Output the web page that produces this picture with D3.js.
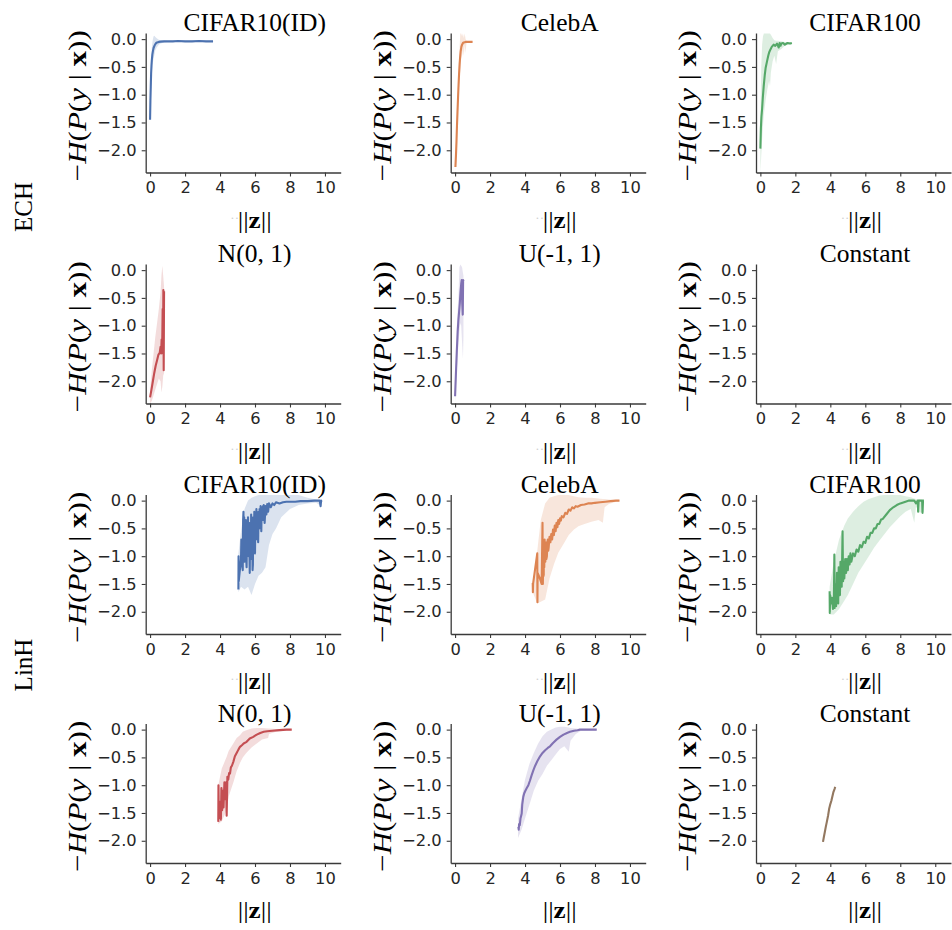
<!DOCTYPE html>
<html>
<head>
<meta charset="utf-8">
<script src="https://cdn.jsdelivr.net/npm/d3@7"></script>
<style>
  body { margin: 0; background: #fff; }
  svg { display: block; }
</style>
</head>
<body>
<svg id="chart" width="952" height="930"></svg>
<script>
// ---- labels and ticks ----
const rowNames = ["ECH", "LinH"];
const datasetNames = ["CIFAR10(ID)", "CelebA", "CIFAR100", "N(0, 1)", "U(-1, 1)", "Constant"];
const palette = ["#4c72b0", "#dd8452", "#55a868", "#c44e52", "#8172b3", "#937860"];
const xTicks = [0, 2, 4, 6, 8, 10];
const yTicks = [0, -0.5, -1, -1.5, -2];

// ---- ECH head: mean curve [||z||, -H] and spread band [||z||, low, high] ----
const echCifar10Line = [[0.00,-1.45],[0.02,-1.10],[0.04,-0.85],[0.06,-0.62],[0.08,-0.48],[0.10,-0.38],[0.13,-0.28],[0.16,-0.22],[0.20,-0.16],[0.25,-0.12],[0.30,-0.09],[0.35,-0.07],[0.40,-0.06],[0.50,-0.05],[0.60,-0.045],[0.80,-0.04],[1.00,-0.04],[1.30,-0.04],[1.60,-0.035],[2.00,-0.04],[2.40,-0.04],[2.80,-0.035],[3.20,-0.04],[3.60,-0.04]];
const echCifar10Band = [[0.00,-1.45,-1.40],[0.05,-0.95,-0.45],[0.10,-0.60,-0.15],[0.15,-0.45,-0.02],[0.20,-0.35,0.05],[0.25,-0.28,0.06],[0.30,-0.20,0.04],[0.40,-0.14,0.01],[0.50,-0.10,-0.01],[0.60,-0.08,-0.02],[0.80,-0.06,-0.025],[1.00,-0.05,-0.03],[2.00,-0.05,-0.03],[3.60,-0.05,-0.03]];

const echCelebALine = [[0.02,-2.30],[0.05,-2.10],[0.08,-1.85],[0.11,-1.55],[0.14,-1.30],[0.17,-1.05],[0.20,-0.82],[0.23,-0.62],[0.26,-0.45],[0.29,-0.32],[0.32,-0.22],[0.36,-0.14],[0.40,-0.10],[0.45,-0.07],[0.50,-0.06],[0.60,-0.05],[0.70,-0.05],[0.85,-0.05],[1.00,-0.05]];
const echCelebABand = [[0.02,-2.40,-2.20],[0.10,-1.80,-1.30],[0.20,-1.00,-0.60],[0.25,-0.75,-0.20],[0.30,-0.55,0.10],[0.35,-0.35,0.10],[0.40,-0.30,0.05],[0.45,-0.20,0.10],[0.50,-0.30,0.02],[0.55,-0.10,0.10],[0.60,-0.25,0.00],[0.65,-0.08,-0.03],[0.70,-0.06,-0.04],[1.00,-0.06,-0.04]];

const echCifar100Line = [[0.00,-1.97],[0.03,-1.60],[0.06,-1.40],[0.10,-1.25],[0.14,-1.05],[0.19,-0.85],[0.25,-0.65],[0.30,-0.52],[0.38,-0.40],[0.45,-0.30],[0.50,-0.24],[0.57,-0.19],[0.65,-0.14],[0.76,-0.10],[0.85,-0.12],[0.95,-0.08],[1.05,-0.15],[1.10,-0.07],[1.15,-0.12],[1.20,-0.08],[1.30,-0.07],[1.40,-0.10],[1.55,-0.07],[1.70,-0.08],[1.80,-0.07]];
const echCifar100Band = [[0.00,-2.40,-1.50],[0.05,-2.10,-0.50],[0.10,-1.80,-0.10],[0.15,-1.55,0.05],[0.20,-1.35,0.10],[0.30,-1.10,0.10],[0.40,-0.90,0.10],[0.50,-0.75,0.10],[0.55,-0.85,0.10],[0.60,-0.60,0.08],[0.70,-0.40,0.02],[0.80,-0.30,-0.02],[0.90,-0.45,-0.03],[1.00,-0.22,-0.03],[1.20,-0.18,-0.04],[1.40,-0.12,-0.05],[1.80,-0.09,-0.06]];

const echNormalLine = [[0.00,-2.29],[0.08,-2.15],[0.16,-2.00],[0.24,-1.85],[0.32,-1.72],[0.40,-1.62],[0.48,-1.52],[0.55,-1.49],[0.60,-1.38],[0.63,-1.50],[0.66,-1.25],[0.69,-1.42],[0.72,-0.70],[0.74,-1.50],[0.76,-0.36],[0.78,-1.80],[0.80,-0.38]];
const echNormalBand = [[0.00,-2.40,-2.15],[0.10,-2.35,-1.80],[0.20,-2.25,-1.50],[0.30,-2.15,-1.20],[0.40,-2.05,-0.95],[0.50,-1.95,-0.70],[0.60,-2.00,-0.40],[0.65,-2.20,-0.10],[0.70,-2.10,0.08],[0.75,-1.90,-0.10],[0.80,-1.85,-0.30]];

const echUniformLine = [[0.00,-2.27],[0.05,-1.85],[0.10,-1.45],[0.15,-1.10],[0.19,-0.90],[0.23,-0.75],[0.27,-0.60],[0.31,-0.40],[0.35,-0.25],[0.38,-0.18],[0.41,-0.60],[0.44,-0.80],[0.46,-0.18],[0.48,-0.20]];
const echUniformBand = [[0.00,-2.38,-2.15],[0.10,-1.80,-1.00],[0.20,-1.30,-0.40],[0.25,-1.10,0.05],[0.30,-0.95,0.10],[0.35,-1.00,0.08],[0.40,-1.30,0.05],[0.45,-1.60,-0.05],[0.48,-1.20,-0.10]];

const echConstantLine = [];
const echConstantBand = [];

// ---- LinH head ----
const linCifar10Line = [[5.05,-1.60],[5.06,-1.00],[5.07,-1.45],[5.20,-1.05],[5.22,-0.70],[5.26,-1.15],[5.30,-1.25],[5.32,-0.35],[5.34,-0.20],[5.36,-0.95],[5.38,-0.30],[5.40,-1.10],[5.42,-0.60],[5.44,-0.40],[5.46,-0.95],[5.48,-0.35],[5.50,-1.05],[5.52,-1.20],[5.54,-0.55],[5.56,-0.70],[5.58,-0.85],[5.60,-0.30],[5.62,-0.75],[5.64,-1.00],[5.66,-0.45],[5.68,-0.90],[5.70,-1.30],[5.72,-0.40],[5.74,-0.65],[5.76,-1.05],[5.78,-0.25],[5.80,-0.80],[5.82,-0.90],[5.84,-0.50],[5.86,-1.25],[5.88,-1.15],[5.90,-0.30],[5.92,-0.60],[5.94,-0.75],[5.96,-0.20],[5.98,-0.85],[6.00,-0.95],[6.02,-0.35],[6.04,-0.55],[6.06,-0.70],[6.08,-0.15],[6.10,-0.45],[6.12,-0.60],[6.14,-0.25],[6.16,-0.50],[6.18,-0.75],[6.20,-0.20],[6.22,-0.40],[6.24,-0.50],[6.26,-0.15],[6.28,-0.30],[6.30,-0.45],[6.32,-0.10],[6.34,-0.25],[6.36,-0.55],[6.38,-0.12],[6.40,-0.30],[6.42,-0.12],[6.44,-0.35],[6.46,-0.10],[6.48,-0.22],[6.50,-0.08],[6.55,-0.40],[6.60,-0.10],[6.65,-0.25],[6.70,-0.06],[6.75,-0.20],[6.80,-0.05],[6.90,-0.12],[7.00,-0.05],[7.10,-0.08],[7.20,-0.03],[7.40,-0.05],[7.60,-0.03],[7.80,-0.02],[8.00,-0.02],[8.30,-0.02],[8.60,-0.01],[9.00,-0.01],[9.40,0.00],[9.70,0.00],[9.75,-0.10],[9.78,0.00],[9.80,-0.02]];
const linCifar10Band = [[5.05,-1.65,-0.95],[5.20,-1.55,-0.55],[5.40,-1.60,-0.15],[5.60,-1.55,0.00],[5.80,-1.70,0.05],[6.00,-1.50,0.08],[6.20,-1.35,0.10],[6.40,-1.30,0.10],[6.60,-1.20,0.10],[6.80,-0.80,0.10],[7.00,-0.60,0.10],[7.20,-0.50,0.10],[7.50,-0.30,0.10],[8.00,-0.15,0.10],[8.50,-0.08,0.10],[9.00,-0.05,0.05],[9.50,-0.04,0.02],[9.80,-0.10,0.00]];

const linCelebALine = [[4.44,-1.48],[4.45,-1.65],[4.46,-1.50],[4.70,-0.95],[4.71,-1.83],[4.72,-1.30],[4.85,-1.40],[4.95,-1.50],[5.00,-0.40],[5.02,-1.50],[5.04,-0.90],[5.05,-1.05],[5.07,-1.35],[5.08,-0.80],[5.10,-1.20],[5.12,-0.70],[5.13,-0.85],[5.16,-1.10],[5.18,-0.75],[5.20,-0.80],[5.22,-1.05],[5.25,-1.00],[5.28,-0.75],[5.30,-0.70],[5.33,-0.90],[5.35,-0.85],[5.40,-0.65],[5.45,-0.75],[5.50,-0.60],[5.55,-0.70],[5.60,-0.52],[5.65,-0.62],[5.70,-0.45],[5.75,-0.55],[5.80,-0.40],[5.85,-0.48],[5.90,-0.35],[5.95,-0.42],[6.00,-0.32],[6.05,-0.36],[6.10,-0.28],[6.20,-0.30],[6.30,-0.22],[6.40,-0.24],[6.50,-0.16],[6.60,-0.18],[6.70,-0.12],[6.80,-0.14],[6.90,-0.10],[7.00,-0.11],[7.20,-0.08],[7.40,-0.07],[7.60,-0.05],[7.80,-0.05],[8.00,-0.04],[8.30,-0.03],[8.60,-0.02],[8.90,-0.01],[9.20,0.00],[9.40,0.00]];
const linCelebABand = [[4.44,-1.65,-1.48],[4.70,-1.85,-0.90],[4.90,-1.82,-0.35],[5.15,-1.78,-0.05],[5.40,-1.40,0.05],[5.65,-1.15,0.08],[5.90,-0.94,0.10],[6.20,-0.78,0.10],[6.50,-0.62,0.10],[6.80,-0.52,0.08],[7.05,-0.46,0.06],[7.40,-0.42,0.05],[7.80,-0.38,0.05],[8.20,-0.35,0.04],[8.45,-0.40,0.03],[8.55,-0.12,0.03],[8.80,-0.06,0.02],[9.20,-0.02,0.01],[9.40,-0.01,0.01]];

const linCifar100Line = [[3.96,-1.63],[3.97,-2.02],[3.99,-1.70],[4.05,-1.85],[4.10,-1.75],[4.15,-1.95],[4.20,-1.90],[4.23,-0.97],[4.25,-1.93],[4.28,-1.50],[4.30,-1.55],[4.33,-1.90],[4.35,-1.80],[4.38,-1.30],[4.40,-1.40],[4.43,-1.65],[4.45,-1.85],[4.48,-1.20],[4.50,-1.30],[4.53,-1.50],[4.55,-1.70],[4.58,-1.10],[4.60,-1.20],[4.63,-1.35],[4.65,-1.55],[4.70,-0.55],[4.73,-1.45],[4.76,-1.10],[4.80,-1.40],[4.85,-1.05],[4.90,-1.30],[4.95,-1.05],[5.00,-1.25],[5.05,-1.00],[5.10,-1.15],[5.15,-0.95],[5.20,-1.10],[5.30,-0.95],[5.40,-1.00],[5.50,-0.88],[5.60,-0.92],[5.70,-0.80],[5.80,-0.84],[5.90,-0.74],[6.00,-0.76],[6.10,-0.65],[6.20,-0.68],[6.30,-0.58],[6.40,-0.58],[6.50,-0.50],[6.60,-0.50],[6.70,-0.42],[6.80,-0.42],[6.90,-0.34],[7.00,-0.33],[7.20,-0.25],[7.40,-0.17],[7.60,-0.12],[7.80,-0.08],[8.00,-0.05],[8.30,-0.02],[8.50,0.00],[8.80,0.00],[8.90,-0.05],[9.00,0.00],[9.02,-0.20],[9.05,0.00],[9.25,0.00],[9.27,-0.22],[9.30,0.00],[9.35,0.00]];
const linCifar100Band = [[3.96,-2.05,-1.55],[4.20,-2.05,-1.10],[4.50,-1.95,-0.70],[4.80,-1.80,-0.45],[5.00,-1.70,-0.32],[5.30,-1.50,-0.20],[5.60,-1.30,-0.10],[5.90,-1.15,-0.02],[6.20,-1.00,0.03],[6.50,-0.85,0.06],[6.80,-0.72,0.09],[7.10,-0.60,0.10],[7.40,-0.48,0.10],[7.70,-0.38,0.10],[8.00,-0.28,0.10],[8.30,-0.20,0.08],[8.60,-0.15,0.06],[8.80,-0.40,0.04],[8.90,-0.10,0.03],[9.10,-0.22,0.02],[9.35,-0.20,0.01]];

const linNormalLine = [[3.90,-1.66],[3.91,-1.00],[3.93,-1.60],[3.98,-1.30],[4.05,-1.62],[4.08,-1.05],[4.12,-1.45],[4.16,-1.10],[4.20,-1.40],[4.25,-0.95],[4.30,-1.25],[4.35,-0.95],[4.38,-1.55],[4.42,-0.85],[4.47,-0.90],[4.52,-0.78],[4.57,-0.79],[4.62,-0.68],[4.68,-0.65],[4.76,-0.58],[4.85,-0.48],[4.95,-0.42],[5.05,-0.36],[5.14,-0.31],[5.25,-0.28],[5.35,-0.25],[5.52,-0.22],[5.70,-0.16],[5.90,-0.13],[6.10,-0.09],[6.30,-0.06],[6.50,-0.04],[6.70,-0.03],[7.00,-0.02],[7.40,-0.01],[7.80,0.00],[8.10,0.00]];
const linNormalBand = [[3.90,-1.70,-1.00],[4.10,-1.65,-0.70],[4.38,-1.45,-0.49],[4.50,-1.20,-0.38],[4.76,-0.95,-0.25],[4.95,-0.75,-0.15],[5.14,-0.60,-0.10],[5.30,-0.50,-0.04],[5.50,-0.42,-0.01],[5.80,-0.32,0.02],[6.10,-0.25,0.03],[6.40,-0.18,0.03],[6.75,-0.15,0.02],[6.80,-0.08,0.02],[7.20,-0.04,0.01],[8.10,-0.01,0.01]];

const linUniformLine = [[3.62,-1.75],[3.64,-1.80],[3.66,-1.70],[3.70,-1.72],[3.74,-1.60],[3.78,-1.55],[3.81,-1.51],[3.84,-1.35],[3.87,-1.28],[3.90,-1.21],[3.95,-1.15],[4.02,-1.10],[4.10,-1.05],[4.19,-1.00],[4.28,-0.92],[4.38,-0.82],[4.48,-0.73],[4.58,-0.65],[4.70,-0.57],[4.86,-0.48],[5.00,-0.42],[5.15,-0.37],[5.30,-0.33],[5.43,-0.30],[5.60,-0.24],[5.80,-0.18],[6.00,-0.13],[6.20,-0.09],[6.40,-0.06],[6.57,-0.04],[6.80,-0.02],[7.00,-0.01],[7.14,0.00],[7.40,0.00],[7.70,0.00],[8.10,0.00]];
const linUniformBand = [[3.60,-1.95,-1.60],[3.80,-1.80,-1.25],[4.00,-1.60,-0.90],[4.25,-1.35,-0.62],[4.50,-1.10,-0.42],[4.75,-0.92,-0.25],[5.00,-0.80,-0.12],[5.25,-0.65,-0.04],[5.50,-0.55,0.00],[5.75,-0.45,0.04],[6.00,-0.35,0.05],[6.25,-0.30,0.05],[6.50,-0.40,0.04],[6.60,-0.20,0.03],[6.90,-0.08,0.02],[7.20,-0.02,0.01],[8.10,-0.01,0.01]];

const linConstantLine = [[3.58,-2.02],[3.62,-1.95],[3.68,-1.85],[3.74,-1.75],[3.80,-1.66],[3.87,-1.55],[3.93,-1.43],[4.00,-1.34],[4.06,-1.28],[4.12,-1.20],[4.18,-1.12],[4.24,-1.07],[4.28,-1.03]];
const linConstantBand = [[3.58,-2.04,-2.00],[3.80,-1.70,-1.62],[4.00,-1.38,-1.30],[4.28,-1.06,-1.00]];

// ---- panel table: 4 rows x 3 columns, two heads x six datasets ----
const curves = [
  [echCifar10Line, echCifar10Band], [echCelebALine, echCelebABand], [echCifar100Line, echCifar100Band],
  [echNormalLine, echNormalBand], [echUniformLine, echUniformBand], [echConstantLine, echConstantBand],
  [linCifar10Line, linCifar10Band], [linCelebALine, linCelebABand], [linCifar100Line, linCifar100Band],
  [linNormalLine, linNormalBand], [linUniformLine, linUniformBand], [linConstantLine, linConstantBand]
];
const panels = curves.map((c, i) => ({
  row: Math.floor(i / 3),
  col: i % 3,
  title: datasetNames[i % 6],
  color: palette[i % 6],
  line: c[0],
  band: c[1]
}));

// ---- layout ----
const colLeft = [145.7, 450.7, 756];
const rowTop = [33, 264, 494.5, 723.5];
const axW = 195, axH = 139.5;
const axisColor = "#3a3a3a";
const textColor = "#262626";
const serif = "'Liberation Serif', 'Times New Roman', serif";

const svg = d3.select("#chart");

panels.forEach(p => {
  const left = colLeft[p.col], top = rowTop[p.row];
  const x = d3.scaleLinear().domain([-0.25, 10.9]).range([left, left + axW]);
  const y = d3.scaleLinear().domain([-2.4, 0.11]).range([top + axH, top]);
  const g = svg.append("g");

  // spread band and mean curve
  const area = d3.area().x(d => x(d[0])).y0(d => y(d[1])).y1(d => y(d[2]));
  const line = d3.line().x(d => x(d[0])).y(d => y(d[1]));
  if (p.band.length) {
    g.append("path").attr("d", area(p.band))
      .attr("fill", p.color).attr("fill-opacity", 0.2).attr("stroke", "none");
  }
  if (p.line.length) {
    g.append("path").attr("d", line(p.line))
      .attr("fill", "none").attr("stroke", p.color)
      .attr("stroke-width", 2.1).attr("stroke-linejoin", "round");
  }

  // axes
  const yAxis = d3.axisLeft(y).tickValues(yTicks).tickFormat(d3.format(".1f"))
    .tickSizeInner(4).tickSizeOuter(0).tickPadding(5);
  const xAxis = d3.axisBottom(x).tickValues(xTicks).tickFormat(d3.format("d"))
    .tickSizeInner(4).tickSizeOuter(0).tickPadding(5);
  const ya = g.append("g").attr("transform", `translate(${left},0)`).call(yAxis);
  const xa = g.append("g").attr("transform", `translate(0,${top + axH})`).call(xAxis);
  [ya, xa].forEach(a => {
    a.select(".domain").attr("stroke", axisColor).attr("stroke-width", 1.3);
    a.selectAll(".tick line").attr("stroke", axisColor).attr("stroke-width", 1.1);
    a.selectAll(".tick text")
      .attr("fill", textColor)
      .style("font-family", "'DejaVu Sans', sans-serif")
      .style("font-size", "16.3px");
  });

  // title
  g.append("text")
    .attr("x", left + 109).attr("y", top - 2)
    .attr("text-anchor", "middle")
    .style("font-family", serif).style("font-size", "25.5px")
    .attr("fill", "#000")
    .text(p.title);

  // y label: −H(P(y | x))
  const yl = g.append("text")
    .attr("transform", `translate(${left - 60},${top + axH / 2 + 3}) rotate(-90)`)
    .attr("text-anchor", "middle")
    .style("font-family", serif).style("font-size", "26px")
    .attr("fill", "#000")
    .attr("textLength", 151).attr("lengthAdjust", "spacingAndGlyphs");
  yl.append("tspan").text("\u2212");
  yl.append("tspan").style("font-style", "italic").text("H");
  yl.append("tspan").text("(");
  yl.append("tspan").style("font-style", "italic").text("P");
  yl.append("tspan").text("(");
  yl.append("tspan").style("font-style", "italic").text("y");
  yl.append("tspan").text(" | ");
  yl.append("tspan").style("font-weight", "bold").text("x");
  yl.append("tspan").text("))");

  // x label: ||z||
  const xlY = top + axH + 55;
  if (p.row < 3) {
    g.append("text")
      .attr("x", left + 89).attr("y", xlY - 6)
      .attr("text-anchor", "middle")
      .style("font-family", serif).style("font-size", "13px")
      .attr("fill", "#cfcfcf")
      .text("··");
  }
  const xl = g.append("text")
    .attr("x", left + 109).attr("y", xlY)
    .attr("text-anchor", "middle")
    .style("font-family", serif).style("font-size", "24px")
    .attr("fill", "#000")
    .attr("textLength", 34).attr("lengthAdjust", "spacingAndGlyphs");
  xl.append("tspan").text("||");
  xl.append("tspan").style("font-weight", "bold").text("z");
  xl.append("tspan").text("||");
});

// row group labels
[[rowNames[0], 207], [rowNames[1], 665]].forEach(([name, cy]) => {
  svg.append("text")
    .attr("transform", `translate(32,${cy}) rotate(-90)`)
    .attr("text-anchor", "middle")
    .style("font-family", serif).style("font-size", "25px")
    .attr("fill", "#000")
    .text(name);
});
</script>
</body>
</html>
